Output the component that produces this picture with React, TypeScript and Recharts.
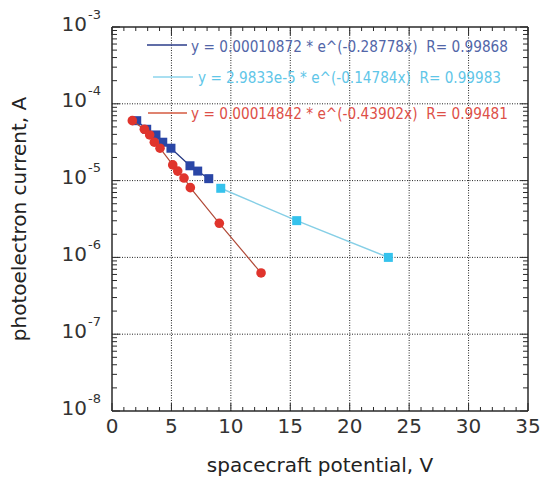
import React from 'react';
import { ScatterChart, Scatter, XAxis, YAxis, ReferenceLine, Legend } from 'recharts';

// measured points (potential in V, current in A)
const blueX = [2.08, 2.92, 3.7, 4.27, 4.96, 6.56, 7.21, 8.14];
const blueY = [6.03e-5, 4.66e-5, 3.93e-5, 3.16e-5, 2.64e-5, 1.56e-5, 1.33e-5, 1.06e-5];
const cyanX = [9.15, 15.54, 23.25];
const cyanY = [7.94e-6, 3.01e-6, 1.0e-6];
const redX = [1.71, 2.72, 3.17, 3.56, 4.04, 5.11, 5.53, 6.06, 6.59, 9.03, 12.54];
const redY = [6.03e-5, 4.66e-5, 3.93e-5, 3.16e-5, 2.64e-5, 1.6e-5, 1.33e-5, 1.08e-5, 8.09e-6, 2.78e-6, 6.27e-7];

const fitLabels = [
    'y = 0.00010872 * e^(-0.28778x)  R= 0.99868',
    'y = 2.9833e-5 * e^(-0.14784x)  R= 0.99983',
    'y = 0.00014842 * e^(-0.43902x)  R= 0.99481',
];

const xTicks = [0, 1, 2, 3, 4, 5, 6, 7, 8, 9, 10, 11, 12, 13, 14, 15, 16, 17, 18, 19, 20, 21, 22, 23, 24, 25, 26, 27, 28, 29, 30, 31, 32, 33, 34, 35];
const xGrid = [5, 10, 15, 20, 25, 30];
const yMajor = [1e-8, 1e-7, 1e-6, 1e-5, 1e-4, 1e-3];
const yGrid = [1e-7, 1e-6, 1e-5, 1e-4];
const yTicks: number[] = [];
yMajor.slice(0, -1).forEach((d) => {
    for (let m = 1; m < 10; m++) yTicks.push(d * m);
});
yTicks.push(1e-3);

const FONT = 'DejaVu Sans';
const AXIS = '#2a2a2a';

const toPoints = (xs: number[], ys: number[]) => xs.map((x, i) => ({ x, y: ys[i] }));

const isMajorY = (v: number) => {
    const l = Math.log10(v);
    return Math.abs(l - Math.round(l)) < 1e-6;
};

const BottomTick = ({ x, y, payload }: any) => {
    const v = payload.value;
    const major = v % 5 === 0;
    return (
        <g>
            <line x1={x} x2={x} y1={y} y2={y - (major ? 8 : 4)} stroke={AXIS} />
            {major && (
                <text x={x} y={y + 22} textAnchor="middle" fontSize={20} fontFamily={FONT} fill="#333">{v}</text>
            )}
        </g>
    );
};

const TopTick = ({ x, y, payload }: any) => {
    const major = payload.value % 5 === 0;
    return <line x1={x} x2={x} y1={y} y2={y + (major ? 8 : 4)} stroke={AXIS} />;
};

const LeftTick = ({ x, y, payload }: any) => {
    const v = payload.value;
    const major = isMajorY(v);
    return (
        <g>
            <line x1={x} x2={x + (major ? 8 : 5)} y1={y} y2={y} stroke={AXIS} />
            {major && (
                <g fontFamily={FONT} fill="#333">
                    <text x={x - 25} y={y + 3.5} textAnchor="end" fontSize={20}>10</text>
                    <text x={x - 24} y={y - 8.5} fontSize={13}>{Math.round(Math.log10(v))}</text>
                </g>
            )}
        </g>
    );
};

const RightTick = ({ x, y, payload }: any) => {
    const major = isMajorY(payload.value);
    return <line x1={x} x2={x - (major ? 8 : 5)} y1={y} y2={y} stroke={AXIS} />;
};

const Square = (color: string) => (props: any) => (
    <rect x={props.cx - 4.5} y={props.cy - 4.5} width={9} height={9} fill={color} />
);
const Dot = (color: string) => (props: any) => <circle cx={props.cx} cy={props.cy} r={4.8} fill={color} />;

const legendRows = [
    { lineColor: '#2b3d8a', textColor: '#5266a8', x1: 147, x2: 187, ly: 45, tx: 191, tw: 317, ty: 51.5 },
    { lineColor: '#8cd4ec', textColor: '#5fc6e8', x1: 153, x2: 193, ly: 77, tx: 198, tw: 303, ty: 83.3 },
    { lineColor: '#d45a40', textColor: '#dd5048', x1: 148, x2: 187, ly: 113, tx: 191, tw: 317, ty: 119 },
];

const renderLegend = () => (
    <svg width={545} height={130}>
        {legendRows.map((r, index) => (
            <g key={`legend-${index}`}>
                <line x1={r.x1} x2={r.x2} y1={r.ly} y2={r.ly} stroke={r.lineColor} strokeWidth={1.3} />
                <text x={r.tx} y={r.ty} fontSize={15} fontFamily={FONT} fill={r.textColor}
                    textLength={r.tw} lengthAdjust="spacingAndGlyphs" style={{ whiteSpace: 'pre' }}>
                    {fitLabels[index]}
                </text>
            </g>
        ))}
    </svg>
);

const App: React.FC = () => {
    return (
        <div style={{ position: 'absolute', left: 0, top: 0, width: 545, height: 478, background: '#fff' }}>
            <ScatterChart width={545} height={478} margin={{ top: 26, right: 16, bottom: 66, left: 111 }}>
                <XAxis xAxisId="b" dataKey="x" type="number" domain={[0, 35]} ticks={xTicks} interval={0}
                    allowDataOverflow height={1} tickSize={0} tickMargin={0} tickLine={false}
                    axisLine={{ stroke: AXIS, strokeWidth: 1.5 }} tick={(p: any) => <BottomTick {...p} />}
                    label={{
                        content: ({ viewBox }: any) => (
                            <text x={viewBox.x + viewBox.width / 2} y={viewBox.y + 61} textAnchor="middle"
                                fontSize={20} fontFamily={FONT} fill="#222">spacecraft potential, V</text>
                        ),
                    }} />
                <XAxis xAxisId="t" orientation="top" dataKey="x" type="number" domain={[0, 35]} ticks={xTicks}
                    interval={0} allowDataOverflow height={1} tickSize={0} tickMargin={0} tickLine={false}
                    axisLine={{ stroke: AXIS, strokeWidth: 1.5 }} tick={(p: any) => <TopTick {...p} />} />
                <YAxis yAxisId="l" dataKey="y" type="number" scale="log" domain={[1e-8, 1e-3]} ticks={yTicks}
                    interval={0} allowDataOverflow width={1} tickSize={0} tickMargin={0} tickLine={false}
                    axisLine={{ stroke: AXIS, strokeWidth: 1.5 }} tick={(p: any) => <LeftTick {...p} />}
                    label={{
                        content: ({ viewBox }: any) => {
                            const cx = 26;
                            const cy = viewBox.y + viewBox.height / 2;
                            return (
                                <text x={cx} y={cy} transform={`rotate(-90, ${cx}, ${cy})`} textAnchor="middle"
                                    fontSize={20} fontFamily={FONT} fill="#222">photoelectron current, A</text>
                            );
                        },
                    }} />
                <YAxis yAxisId="r" orientation="right" dataKey="y" type="number" scale="log" domain={[1e-8, 1e-3]}
                    ticks={yTicks} interval={0} allowDataOverflow width={1} tickSize={0} tickMargin={0}
                    tickLine={false} axisLine={{ stroke: AXIS, strokeWidth: 1.5 }}
                    tick={(p: any) => <RightTick {...p} />} />

                {xGrid.map((v) => (
                    <ReferenceLine key={`gx-${v}`} xAxisId="b" yAxisId="l" x={v} stroke="#222" strokeDasharray="1 1.5" />
                ))}
                {yGrid.map((v) => (
                    <ReferenceLine key={`gy-${v}`} xAxisId="b" yAxisId="l" y={v} stroke="#222" strokeDasharray="1 1.5" />
                ))}

                <Scatter name={fitLabels[0]} xAxisId="b" yAxisId="l" data={toPoints(blueX, blueY)} fill="#2a46a6"
                    line={{ stroke: '#223580', strokeWidth: 1.2 }} lineType="joint" shape={Square('#2a46a6')}
                    isAnimationActive={false} />
                <Scatter name={fitLabels[1]} xAxisId="b" yAxisId="l" data={toPoints(cyanX, cyanY)} fill="#35c2ec"
                    line={{ stroke: '#86cfe6', strokeWidth: 1.5 }} lineType="joint" shape={Square('#35c2ec')}
                    isAnimationActive={false} />
                <Scatter name={fitLabels[2]} xAxisId="b" yAxisId="l" data={toPoints(redX, redY)} fill="#e0342c"
                    line={{ stroke: '#b04a38', strokeWidth: 1.2 }} lineType="joint" shape={Dot('#e0342c')}
                    isAnimationActive={false} />

                <Legend layout="vertical" align="center" verticalAlign="middle" content={renderLegend}
                    wrapperStyle={{ left: 0, top: 0, width: 545, height: 130, pointerEvents: 'none' }} />
            </ScatterChart>
        </div>
    );
};

export default App;
